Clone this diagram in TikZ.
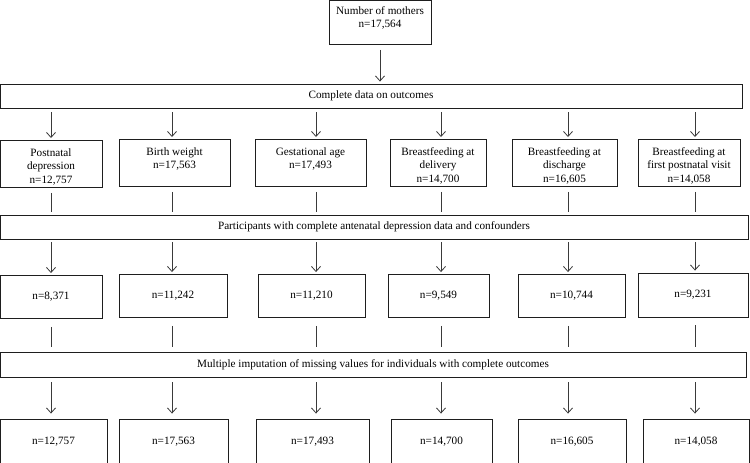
\documentclass[tikz,border=0pt]{standalone}
\usepackage{fontspec}
\setmainfont{Liberation Serif}
\usetikzlibrary{positioning,arrows.meta,calc}
\definecolor{ink}  {HTML}{1E1E1E}
\definecolor{wire} {HTML}{3A3A3A}
\newcommand{\toplines}[1]{\begin{tabular}[t]{@{}c@{}}#1\end{tabular}}
\tikzset{
  >={Straight Barb[length=5pt,width=9pt]},
  every node/.style={font=\fontsize{11.2}{13.5}\selectfont},
  % --- nodes
  box/.style  = {draw=ink, line width=0.9pt, fill=white, align=center, inner sep=3pt},
  bar/.style  = {box, minimum height=24pt},
  outc/.style = {box, anchor=north, text height=13pt, text depth=28pt},
  cnt/.style  = {box, minimum height=43pt},
  % --- edges
  e/.style    = {->, draw=wire, line width=0.8pt, shorten <=4pt, shorten >=2pt},
  ln/.style   = {draw=wire, line width=0.8pt, shorten <=5pt, shorten >=3pt},
}
\begin{document}
\begin{tikzpicture}[x=1pt,y=-1pt]
  \useasboundingbox (0,0) rectangle (750,463);
  \foreach \c/\x in {1/51,2/172,3/316,4/441,5/568,6/695} \coordinate (c\c) at (\x,0);
  \node[box, anchor=north, text height=10.7pt, text depth=27.3pt, minimum width=102pt] (top) at (380,0) {\toplines{Number of mothers\\n=17,564}};
  \node[bar, minimum width=742pt] (w1) at (371,96) {Complete data on outcomes};
  % outcomes
  \node[outc, minimum width=102pt] (r1a) at (51,140) {\toplines{Postnatal\\depression\\n=12,757}};
  \node[outc, minimum width=111pt] (r1b) at (174.5,139) {\toplines{Birth weight\\n=17,563}};
  \node[outc, minimum width=111pt] (r1c) at (310.5,139) {\toplines{Gestational age\\n=17,493}};
  \node[outc, minimum width=96pt]  (r1d) at (438,139) {\toplines{Breastfeeding at\\delivery\\n=14,700}};
  \node[outc, minimum width=105pt] (r1e) at (564.5,139) {\toplines{Breastfeeding at\\discharge\\n=16,605}};
  \node[outc, minimum width=102pt] (r1f) at (689,139) {\toplines{Breastfeeding at\\first postnatal visit\\n=14,058}};
  \node[bar, minimum width=748pt] (w2) at (374,227) {Participants with complete antenatal depression data and confounders};
  % complete cases
  \node[cnt, minimum width=102pt] (r2a) at (51,297) {n=8,371};
  \node[cnt, minimum width=108pt] (r2b) at (173,296) {n=11,242};
  \node[cnt, minimum width=107pt] (r2c) at (311.5,296) {n=11,210};
  \node[cnt, minimum width=101pt] (r2d) at (438.5,296) {n=9,549};
  \node[cnt, minimum width=107pt] (r2e) at (571.5,296) {n=10,744};
  \node[cnt, minimum width=110pt, minimum height=44pt] (r2f) at (693,295) {n=9,231};
  \node[bar, minimum width=746pt, minimum height=25pt] (w3) at (373,364.5) {Multiple imputation of missing values for individuals with complete outcomes};
  % imputed
  \node[cnt, minimum width=107pt, minimum height=45pt] (r3a) at (53.5,441.5) {n=12,757};
  \node[cnt, minimum width=109pt, minimum height=45pt] (r3b) at (173.5,441.5) {n=17,563};
  \node[cnt, minimum width=113pt, minimum height=45pt] (r3c) at (312.5,441.5) {n=17,493};
  \node[cnt, minimum width=101pt, minimum height=45pt] (r3d) at (441.5,441.5) {n=14,700};
  \node[cnt, minimum width=108pt, minimum height=45pt] (r3e) at (572,441.5) {n=16,605};
  \node[cnt, minimum width=106pt, minimum height=45pt] (r3f) at (696,441.5) {n=14,058};
  \draw[e, shorten <=5pt] (top.south) -- (top.south |- w1.north);
  \draw[e] (c1 |- w1.south) -- (c1 |- r1a.north); \draw[e] (c2 |- w1.south) -- (c2 |- r1b.north); \draw[e] (c3 |- w1.south) -- (c3 |- r1c.north);
  \draw[e] (c4 |- w1.south) -- (c4 |- r1d.north); \draw[e] (c5 |- w1.south) -- (c5 |- r1e.north); \draw[e] (c6 |- w1.south) -- (c6 |- r1f.north);
  \draw[ln] (c1 |- r1a.south) -- (c1 |- w2.north); \draw[ln] (c2 |- r1b.south) -- (c2 |- w2.north); \draw[ln] (c3 |- r1c.south) -- (c3 |- w2.north);
  \draw[ln] (c4 |- r1d.south) -- (c4 |- w2.north); \draw[ln] (c5 |- r1e.south) -- (c5 |- w2.north); \draw[ln] (c6 |- r1f.south) -- (c6 |- w2.north);
  \draw[e, shorten <=3pt] (c1 |- w2.south) -- (c1 |- r2a.north); \draw[e, shorten <=3pt] (c2 |- w2.south) -- (c2 |- r2b.north); \draw[e, shorten <=3pt] (c3 |- w2.south) -- (c3 |- r2c.north);
  \draw[e, shorten <=3pt] (c4 |- w2.south) -- (c4 |- r2d.north); \draw[e, shorten <=3pt] (c5 |- w2.south) -- (c5 |- r2e.north); \draw[e, shorten <=3pt] (c6 |- w2.south) -- (c6 |- r2f.north);
  \draw[ln, shorten <=8pt, shorten >=5pt] (c1 |- r2a.south) -- (c1 |- w3.north); \draw[ln, shorten <=8pt, shorten >=5pt] (c2 |- r2b.south) -- (c2 |- w3.north); \draw[ln, shorten <=8pt, shorten >=5pt] (c3 |- r2c.south) -- (c3 |- w3.north);
  \draw[ln, shorten <=8pt, shorten >=5pt] (c4 |- r2d.south) -- (c4 |- w3.north); \draw[ln, shorten <=8pt, shorten >=5pt] (c5 |- r2e.south) -- (c5 |- w3.north); \draw[ln, shorten <=8pt, shorten >=5pt] (c6 |- r2f.south) -- (c6 |- w3.north);
  \draw[e, shorten <=5pt, shorten >=5pt] (c1 |- w3.south) -- (c1 |- r3a.north); \draw[e, shorten <=5pt, shorten >=5pt] (c2 |- w3.south) -- (c2 |- r3b.north); \draw[e, shorten <=5pt, shorten >=5pt] (c3 |- w3.south) -- (c3 |- r3c.north);
  \draw[e, shorten <=5pt, shorten >=5pt] (c4 |- w3.south) -- (c4 |- r3d.north); \draw[e, shorten <=5pt, shorten >=5pt] (c5 |- w3.south) -- (c5 |- r3e.north); \draw[e, shorten <=5pt, shorten >=5pt] (c6 |- w3.south) -- (c6 |- r3f.north);
\end{tikzpicture}
\end{document}
